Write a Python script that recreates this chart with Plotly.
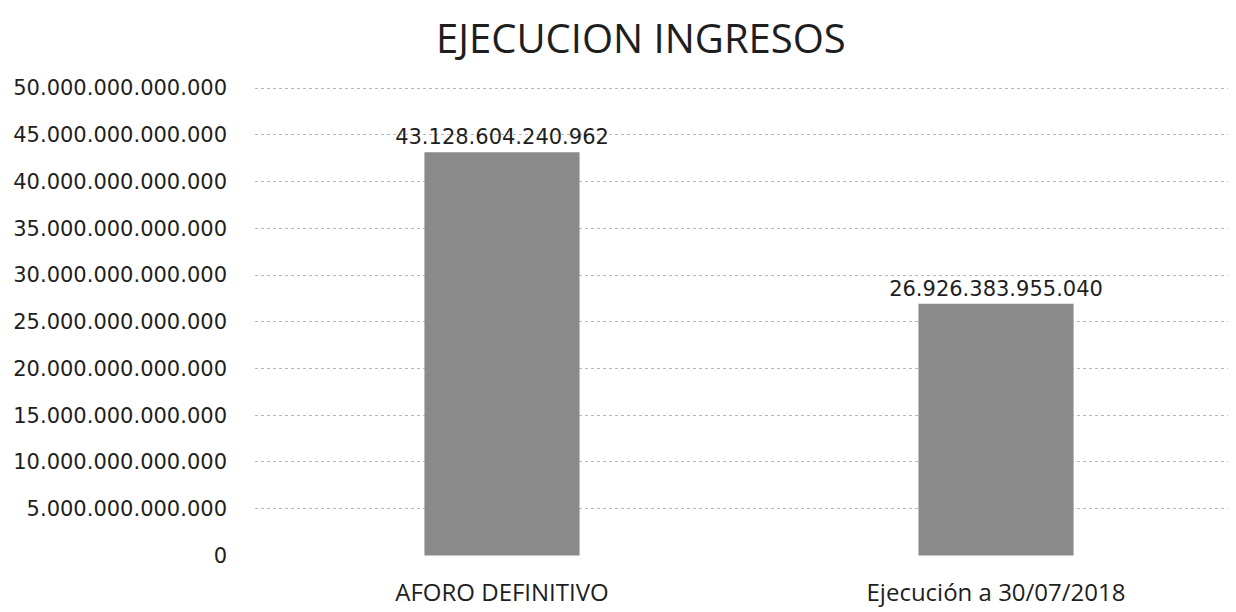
import plotly.graph_objects as go

categories = ["AFORO DEFINITIVO", "Ejecución a 30/07/2018"]
values = [43128604240962, 26926383955040]
value_labels = ["43.128.604.240.962", "26.926.383.955.040"]
tick_vals = [i * 5_000_000_000_000 for i in range(11)]
title_text = "EJECUCION INGRESOS"

fig = go.Figure()
fig.add_trace(go.Bar(
    x=[0, 1], y=values, width=0.314,
    marker=dict(color="#8a8a8a", line=dict(width=0)),
    text=value_labels, textposition="outside", constraintext="none",
    textfont=dict(family="DejaVu Sans", size=21, color="#1e1e1e"),
    cliponaxis=False,
))

plot_left, plot_w, plot_top, plot_h = 247, 989, 79, 469
fig.update_layout(
    width=1236, height=612,
    paper_bgcolor="white", plot_bgcolor="white",
    separators=",.",
    margin=dict(l=plot_left, r=0, t=plot_top, b=612 - plot_top - plot_h),
    showlegend=False,
    font=dict(family="Open Sans", color="#1e1e1e"),
)
fig.add_annotation(
    text=title_text, xref="paper", yref="paper",
    x=(633 - plot_left) / plot_w, y=1 + (plot_top - 30) / plot_h,
    xanchor="center", yanchor="middle", showarrow=False,
    font=dict(family="Open Sans", size=40, color="#1e1e1e"),
)
fig.update_yaxes(
    range=[-0.06e12, 50.12e12], tickvals=tick_vals, tickformat=",d",
    showgrid=True, gridcolor="#b8b8b8", griddash="dot", gridwidth=1,
    zeroline=False, showline=False, ticks="", ticklabelstandoff=27,
    tickfont=dict(family="DejaVu Sans", size=21, color="#1e1e1e"),
)
fig.update_xaxes(
    range=[-0.5, 1.502], tickvals=[0, 1], ticktext=categories,
    showgrid=False, zeroline=False, showline=False, ticks="", ticklabelstandoff=20,
    tickfont=dict(family="Open Sans", size=24, color="#1e1e1e"),
)

fig.write_html("out.html")
